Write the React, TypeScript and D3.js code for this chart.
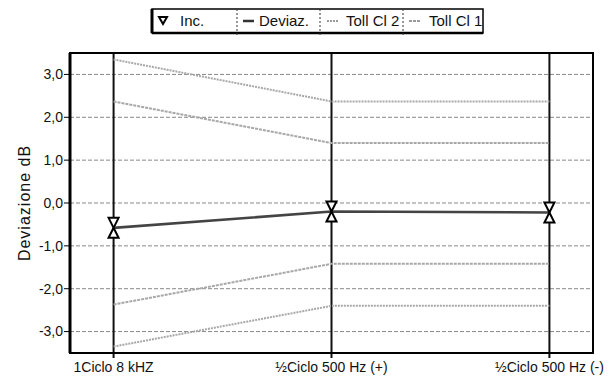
import React from "react";
import * as d3 from "d3";

const categories = ["1Ciclo 8 kHZ", "½Ciclo 500 Hz (+)", "½Ciclo 500 Hz (-)"];
const deviaz = [-0.58, -0.2, -0.22];
const tollCl2Upper = [3.35, 2.37, 2.37];
const tollCl2Lower = [-3.35, -2.4, -2.4];
const tollCl1Upper = [2.37, 1.4, 1.4];
const tollCl1Lower = [-2.37, -1.42, -1.42];
const yTicks = [-3, -2, -1, 0, 1, 2, 3];
const legendItems = ["Inc.", "Deviaz.", "Toll Cl 2", "Toll Cl 1"];

const W = 608;
const H = 379;
const plot = { left: 70, right: 593, top: 53, bottom: 353 };
const FONT = "'Liberation Sans', Arial, sans-serif";

export default function App() {
  const x = d3.scalePoint<string>().domain(categories).range([plot.left, plot.right]).padding(0.2);
  const y = d3.scaleLinear().domain([-3.5, 3.5]).range([plot.bottom, plot.top]);
  const line = d3
    .line<number>()
    .x((_, i) => x(categories[i]) as number)
    .y((d) => y(d));
  const fmt = (v: number) => d3.format(".1f")(v).replace(".", ",").replace("−", "-");

  const hourglass = (cx: number, cy: number) =>
    `M${cx - 5},${cy - 10} L${cx + 5},${cy - 10} L${cx},${cy} Z M${cx - 5},${cy + 10} L${cx + 5},${cy + 10} L${cx},${cy} Z`;

  const legendX = [152, 237, 320, 403, 483];
  const legY0 = 9;
  const legY1 = 33;

  return (
    <svg width={W} height={H} style={{ position: "absolute", left: 0, top: 0, background: "#fff" }}>
      <rect x={0} y={0} width={W} height={H} fill="#fff" />
      {/* horizontal gridlines */}
      {yTicks.map((t) => (
        <line key={t} x1={plot.left} x2={plot.right} y1={y(t)} y2={y(t)} stroke="#888" strokeWidth={1} strokeDasharray="4,2" />
      ))}
      {/* y tick marks and labels */}
      {yTicks.map((t) => (
        <g key={"yt" + t}>
          <line x1={plot.left - 6} x2={plot.left} y1={y(t)} y2={y(t)} stroke="#000" strokeWidth={1} />
          <text x={plot.left - 7} y={y(t)} dy="0.35em" textAnchor="end" fontFamily={FONT} fontSize={14} fill="#111">
            {fmt(t)}
          </text>
        </g>
      ))}
      {/* category vertical lines */}
      {categories.map((c) => (
        <g key={c}>
          <line x1={x(c)} x2={x(c)} y1={plot.top} y2={plot.bottom + 5} stroke="#111" strokeWidth={2} />
          <text x={x(c)} y={372} textAnchor="middle" fontFamily={FONT} fontSize={14} fill="#111">
            {c}
          </text>
        </g>
      ))}
      {/* tolerance lines */}
      {[tollCl2Upper, tollCl2Lower].map((s, i) => (
        <path key={"c2" + i} d={line(s) as string} fill="none" stroke="#a8a8a8" strokeWidth={2} strokeDasharray="2,1" />
      ))}
      {[tollCl1Upper, tollCl1Lower].map((s, i) => (
        <path key={"c1" + i} d={line(s) as string} fill="none" stroke="#a8a8a8" strokeWidth={2} strokeDasharray="3,1" />
      ))}
      {/* deviation line */}
      <path d={line(deviaz) as string} fill="none" stroke="#444" strokeWidth={2.6} />
      {/* markers */}
      {deviaz.map((v, i) => (
        <path key={"m" + i} d={hourglass(x(categories[i]) as number, y(v))} fill="#fff" stroke="#000" strokeWidth={2} strokeLinejoin="miter" />
      ))}
      {/* plot frame */}
      <rect x={plot.left} y={plot.top} width={plot.right - plot.left} height={plot.bottom - plot.top} fill="none" stroke="#000" strokeWidth={2} />
      <line x1={plot.left} x2={plot.left} y1={plot.top} y2={plot.bottom} stroke="#000" strokeWidth={3} />
      {/* y axis title */}
      <text
        transform={`translate(30,${(plot.top + plot.bottom) / 2}) rotate(-90)`}
        textAnchor="middle"
        fontFamily={FONT}
        fontSize={16}
        letterSpacing={1}
        fill="#111"
      >
        Deviazione dB
      </text>
      {/* legend */}
      <g>
        <rect x={legendX[0]} y={legY0} width={legendX[4] - legendX[0]} height={legY1 - legY0} fill="#fff" stroke="#000" strokeWidth={1.5} />
        <line x1={legendX[0]} x2={legendX[0]} y1={legY0} y2={legY1} stroke="#000" strokeWidth={3} />
        <line x1={legendX[0]} x2={legendX[4]} y1={legY1} y2={legY1} stroke="#000" strokeWidth={2.5} />
        {[1, 2, 3].map((k) => (
          <line key={"ld" + k} x1={legendX[k]} x2={legendX[k]} y1={legY0} y2={legY1 + 3} stroke="#333" strokeWidth={1} strokeDasharray="2,2" />
        ))}
        {/* Inc. marker */}
        <path d={`M159,17 L167,17 L163,24 Z`} fill="#fff" stroke="#000" strokeWidth={2} />
        <text x={180} y={26} fontFamily={FONT} fontSize={15} fill="#111">{legendItems[0]}</text>
        {/* Deviaz */}
        <line x1={243} x2={254} y1={21} y2={21} stroke="#333" strokeWidth={2.5} />
        <text x={259} y={26} fontFamily={FONT} fontSize={15} fill="#111">{legendItems[1]}</text>
        {/* Toll Cl 2 */}
        <line x1={327} x2={338} y1={21} y2={21} stroke="#9a9a9a" strokeWidth={2.2} strokeDasharray="2,1" />
        <text x={346} y={26} fontFamily={FONT} fontSize={15} fill="#111">{legendItems[2]}</text>
        {/* Toll Cl 1 */}
        <line x1={409} x2={421} y1={21} y2={21} stroke="#9a9a9a" strokeWidth={2.2} strokeDasharray="3,1" />
        <text x={429} y={26} fontFamily={FONT} fontSize={15} fill="#111">{legendItems[3]}</text>
      </g>
    </svg>
  );
}
